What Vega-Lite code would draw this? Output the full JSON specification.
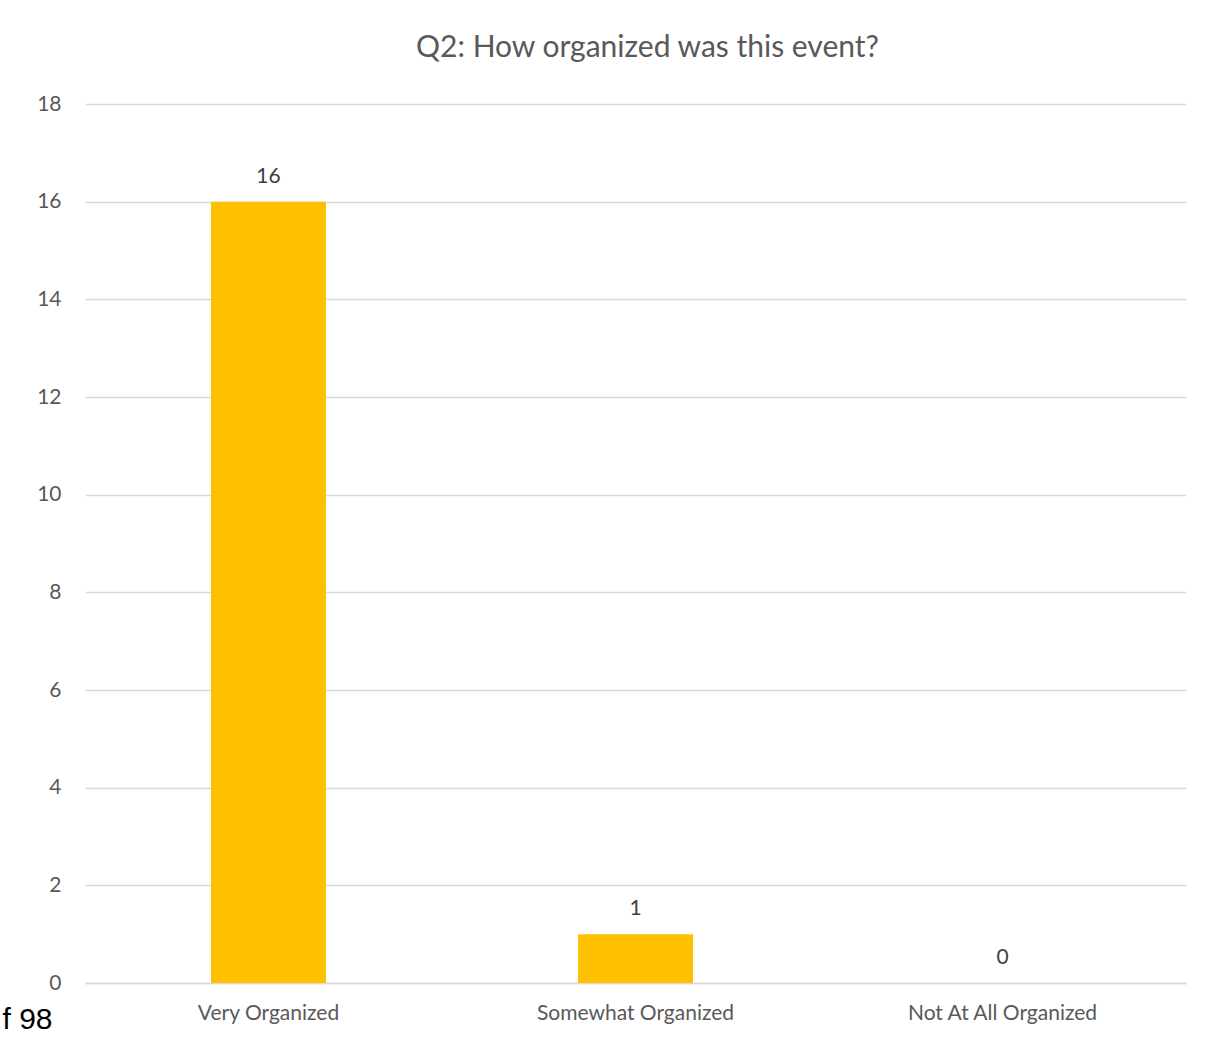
{
  "$schema": "https://vega.github.io/schema/vega-lite/v6.json",
  "autosize": {"type": "none"},
  "width": 1101,
  "height": 879,
  "padding": {"left": 85, "top": 104, "right": 28, "bottom": 57},
  "background": "white",
  "config": {
    "font": "Lato",
    "view": {"stroke": null}
  },
  "title": {
    "text": "Q2: How organized was this event?",
    "fontSize": 30,
    "fontWeight": "normal",
    "color": "#595959",
    "font": "Lato",
    "anchor": "middle",
    "dx": 12,
    "offset": 30
  },
  "data": {
    "values": [
      {"response": "Very Organized", "count": 16},
      {"response": "Somewhat Organized", "count": 1},
      {"response": "Not At All Organized", "count": 0}
    ]
  },
  "encoding": {
    "x": {
      "field": "response",
      "type": "nominal",
      "sort": null,
      "scale": {"paddingInner": 0, "paddingOuter": 0},
      "axis": {
        "title": null,
        "labelAngle": 0,
        "labelFontSize": 21,
        "labelLimit": 0,
        "labelColor": "#595959",
        "labelPadding": 19,
        "ticks": false,
        "domain": true,
        "domainColor": "#d9d9d9",
        "domainWidth": 1.5
      }
    },
    "y": {
      "field": "count",
      "type": "quantitative",
      "scale": {"domain": [0, 18]},
      "axis": {
        "values": [0, 2, 4, 6, 8, 10, 12, 14, 16, 18],
        "title": "f 98",
        "titleAngle": 0,
        "titleFontSize": 30,
        "titleFontWeight": "normal",
        "titleColor": "#000000",
        "titleFont": "Liberation Sans",
        "titleX": -58,
        "titleY": 924,
        "titleAlign": "center",
        "titleBaseline": "alphabetic",
        "labelFontSize": 21,
        "labelColor": "#595959",
        "labelPadding": 24,
        "ticks": false,
        "domain": false,
        "gridColor": "#d9d9d9",
        "gridWidth": 1.3
      }
    }
  },
  "layer": [
    {"mark": {"type": "bar", "size": 115, "color": "#FFC000"}},
    {
      "mark": {"type": "text", "dy": -25, "fontSize": 21, "color": "#404040", "font": "Lato"},
      "encoding": {"text": {"field": "count", "type": "quantitative"}}
    }
  ]
}
